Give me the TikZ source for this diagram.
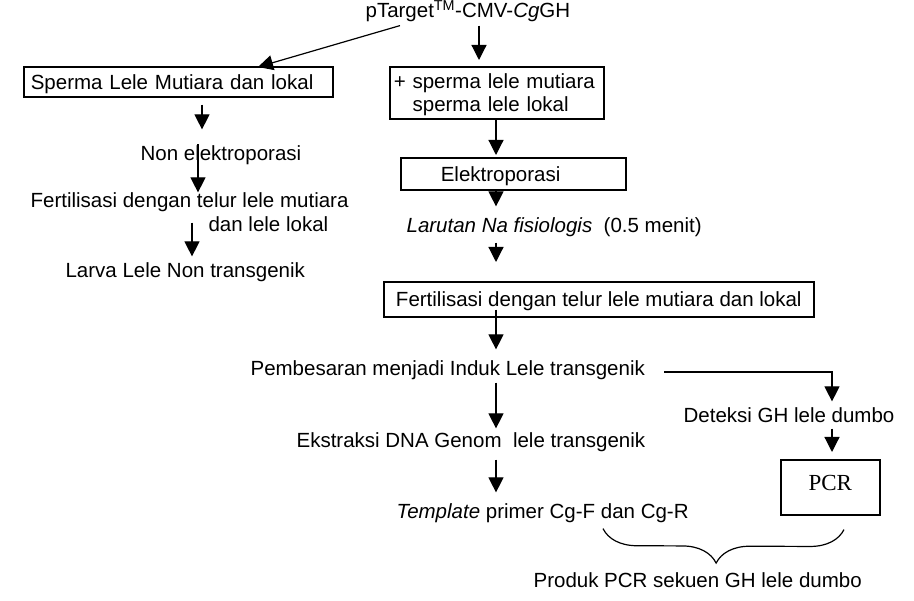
\documentclass[tikz,border=0pt]{standalone}
\usepackage{fontspec}
\setmainfont{Liberation Sans}
\newfontfamily\pcrfont{Liberation Serif}
\usetikzlibrary{arrows.meta,decorations.pathreplacing}

\begin{document}
\begin{tikzpicture}[x=1pt,y=-1pt,
    every node/.style={font=\fontsize{20.5}{23}\selectfont},
    lbl/.style={inner sep=0pt,text height=15pt,text depth=4pt,anchor=base west},
    stagebox/.style={draw,line width=1.6pt,anchor=north west,align=left,inner ysep=0pt},
    onerow/.style={text height=15pt,text depth=0pt},
    >={Triangle[width=15pt,length=15pt]}, line width=1.2pt
  ]
  \useasboundingbox (0,0) rectangle (914,601);

  \node[lbl] (title) at (365,18) {pTarget\textsuperscript{TM}-CMV-\textit{Cg}GH};

  % left branch
  \node[stagebox,onerow,text width=295pt,inner xsep=7pt,minimum height=30pt] (spermL) at (23,66) {Sperma Lele Mutiara dan lokal};
  \node[lbl] (nonel) at (140,161) {Non elektroporasi};
  \node[lbl] (fertL) at (30,208) {Fertilisasi dengan telur lele mutiara};
  \node[lbl] (fertLb) at (208,232) {dan lele lokal};
  \node[lbl] (larva) at (65,278) {Larva Lele Non transgenik};

  % right branch
  \node[stagebox,text width=206pt,inner xsep=4pt,minimum height=52pt] (spermM) at (389,66)
    {\rule{0pt}{19.5pt}+ sperma lele mutiara\\\hphantom{+ }sperma lele lokal};
  \node[stagebox,onerow,text width=145pt,inner xsep=40pt,minimum height=32pt] (elektro) at (400,157) {Elektroporasi};
  \node[lbl] (larutan) at (406,233) {\textit{Larutan Na fisiologis}~ (0.5 menit)};
  \node[stagebox,onerow,inner xsep=0pt,minimum width=430pt,minimum height=35pt] (fertM) at (383,281) {Fertilisasi dengan telur lele mutiara dan lokal};
  \node[lbl] (pemb) at (250,376) {Pembesaran menjadi Induk Lele transgenik};
  \node[lbl] (ekst) at (296,448) {Ekstraksi DNA Genom~ lele transgenik};
  \node[lbl] (templ) at (396,519) {\textit{Template} primer Cg-F dan Cg-R};
  \node[lbl] (det) at (683,423) {Deteksi GH lele dumbo};
  \node[draw,line width=1.6pt,anchor=north west,minimum width=99pt,minimum height=55pt,inner sep=0pt,
        text height=15pt,text depth=8pt,font=\pcrfont\fontsize{23}{26}\selectfont] (pcr) at (780,459) {PCR};
  \node[lbl] (prod) at (533,588) {Produk PCR sekuen GH lele dumbo};

  \draw[->] ([xshift=35pt,yshift=-3pt]title.south west) -- ([xshift=235pt,yshift=-1pt]spermL.north west);
  \draw[->] ([xshift=114pt,yshift=-3pt]title.south west) -- ([xshift=90pt,yshift=6pt]spermM.north west);

  \draw[->] ([xshift=179pt,yshift=-7pt]spermL.south west) -- ([xshift=62pt,yshift=16pt]nonel.north west);
  \draw[->] ([xshift=58pt,yshift=1pt]nonel.north west) -- ([xshift=168pt]fertL.north west);
  \draw[->] ([xshift=162pt,yshift=-10pt]fertL.south west) -- ([xshift=127pt,yshift=6pt]larva.north west);

  \draw[->] ([xshift=107pt]spermM.south west) -- ([xshift=96pt,yshift=2pt]elektro.north west);
  \draw[->] ([xshift=96pt]elektro.south west) -- ([xshift=90pt,yshift=11pt]larutan.north west);
  \draw[->] ([xshift=90pt,yshift=-5pt]larutan.south west) -- ([xshift=113pt,yshift=19pt]fertM.north west);
  \draw[->] ([xshift=113pt,yshift=8pt]fertM.south west) -- ([xshift=246pt,yshift=11pt]pemb.north west);
  \draw[->] ([xshift=246pt,yshift=-2pt]pemb.south west) -- ([xshift=200pt,yshift=4pt]ekst.north west);
  \draw[->] ([xshift=200pt,yshift=-7pt]ekst.south west) -- ([xshift=100pt,yshift=11pt]templ.north west);

  \draw[->] ([xshift=19pt,yshift=-1.5pt]pemb.east) -| ([xshift=149pt,yshift=6pt]det.north west);
  \draw[->] ([xshift=149pt,yshift=-1pt]det.south west) -- ([xshift=52pt,yshift=7pt]pcr.north west);

  \draw[decorate,decoration={brace,mirror,amplitude=34pt,aspect=0.47}]
    ([xshift=207pt,yshift=-5pt]templ.south west) -- ([xshift=64pt,yshift=-14pt]pcr.south west);
\end{tikzpicture}
\end{document}
